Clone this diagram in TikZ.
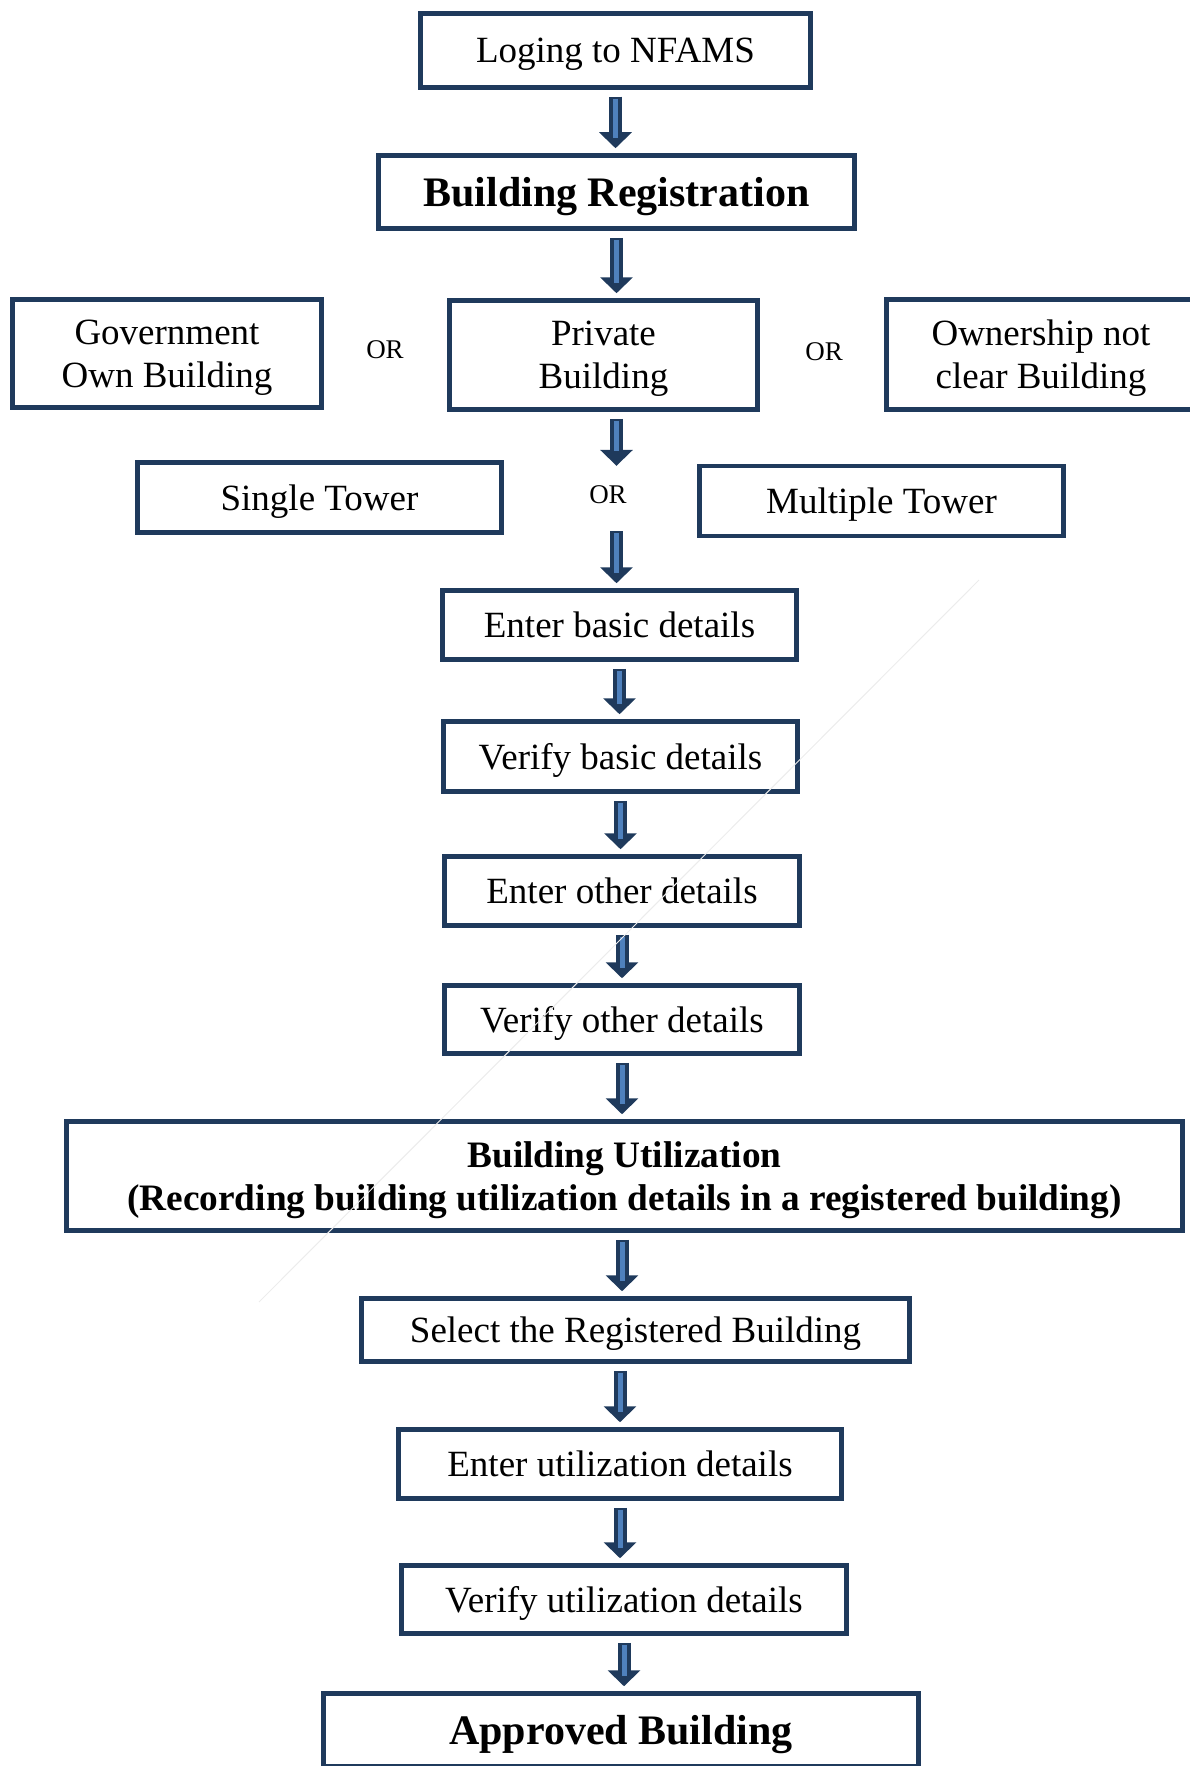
\documentclass[tikz,border=0pt]{standalone}
\usepackage{fontspec}
\setmainfont{Liberation Serif}
\usetikzlibrary{arrows.meta}
\definecolor{boxline}{HTML}{1F3A5C}
\definecolor{arrowfill}{HTML}{4F81BD}

\begin{document}
\begin{tikzpicture}[x=1pt, y=-1pt,
  box/.style={draw=boxline, line width=4.5pt, fill=white, align=center, inner sep=0pt, text depth=0pt, font=\fontsize{37}{43}\selectfont},
  title/.style={box, font=\fontsize{42}{48}\selectfont\bfseries},
  ortext/.style={font=\fontsize{27}{30}\selectfont, inner sep=0pt},
  flow/.style={draw=boxline, line width=13pt, -{Triangle[width=32pt,length=16pt]}, shorten <=7pt, shorten >=5pt,
    postaction={draw=arrowfill, line width=5pt, -, shorten <=9pt, shorten >=15pt}}]

\useasboundingbox (0,0) rectangle (1190,1766);

% Define the top nodes
\node[box, minimum width=390pt, minimum height=74pt] (login) at (615.5, 50.5) {Loging to NFAMS};
\node[title, minimum width=476pt, minimum height=73pt] (reg) at (616.5, 192) {Building Registration};

% Define the ownership choices
\node[box, minimum width=309pt, minimum height=108pt] (gov) at (167, 353.5) {Government\\Own Building};
\node[ortext] (or1) at (385, 350) {OR};
\node[box, minimum width=308pt, minimum height=109pt] (priv) at (603.5, 355) {Private\\Building};
\node[ortext] (or2) at (824, 352) {OR};
\node[box, minimum width=309pt, minimum height=110pt] (owner) at (1041, 354.5) {Ownership not\\clear Building};

% Define the tower choices
\node[box, minimum width=364pt, minimum height=70pt] (single) at (319.5, 497.5) {Single Tower};
\node[ortext, minimum height=58pt] (or3) at (608, 495) {OR};
\node[box, minimum width=364pt, minimum height=70pt] (multi) at (881.5, 501) {Multiple Tower};

% Define the detail steps
\node[box, minimum width=354pt, minimum height=69pt] (basic) at (619.5, 625) {Enter basic details};
\node[box, minimum width=354pt, minimum height=70pt] (vbasic) at (620.5, 756.5) {Verify basic details};
\node[box, minimum width=355pt, minimum height=69pt] (other) at (622, 891) {Enter other details};
\node[box, minimum width=355pt, minimum height=68pt] (vother) at (622, 1019.5) {Verify other details};

% Define the utilization steps
\node[box, minimum width=1116pt, minimum height=109pt, font=\fontsize{37.3}{43}\selectfont\bfseries] (util) at (624.5, 1176)
  {Building Utilization\\(Recording building utilization details in a registered building)};
\node[box, minimum width=548pt, minimum height=63pt] (select) at (635.5, 1330) {Select the Registered Building};
\node[box, minimum width=443pt, minimum height=69pt] (eutil) at (620, 1464) {Enter utilization details};
\node[box, minimum width=445pt, minimum height=68pt] (vutil) at (624, 1599.5) {Verify utilization details};
\node[title, minimum width=595pt, minimum height=73pt] (approved) at (621, 1730) {Approved Building};

% Connect the steps
\draw[flow] (login.south) -- (login.south |- reg.north);
\draw[flow] (reg.south) -- (reg.south |- priv.north);
\draw[flow, shorten >=0pt] (priv.south -| reg.south) -- (reg.south |- or3.north);
\draw[flow] (or3.south -| reg.south) -- (reg.south |- basic.north);
\draw[flow] (basic.south) -- (basic.south |- vbasic.north);
\draw[flow] (vbasic.south) -- (vbasic.south |- other.north);
\draw[flow] (other.south) -- (other.south |- vother.north);
\draw[flow] (vother.south) -- (vother.south |- util.north);
\draw[flow] (util.south -| vother.south) -- (vother.south |- select.north);
\draw[flow] (select.south -| eutil.north) -- (eutil.north);
\draw[flow] (eutil.south) -- (eutil.south |- vutil.north);
\draw[flow] (vutil.south) -- (vutil.south |- approved.north);

% faint stray line
\draw[gray!15, line width=1pt] (979, 580) -- (259, 1302);

\end{tikzpicture}
\end{document}
